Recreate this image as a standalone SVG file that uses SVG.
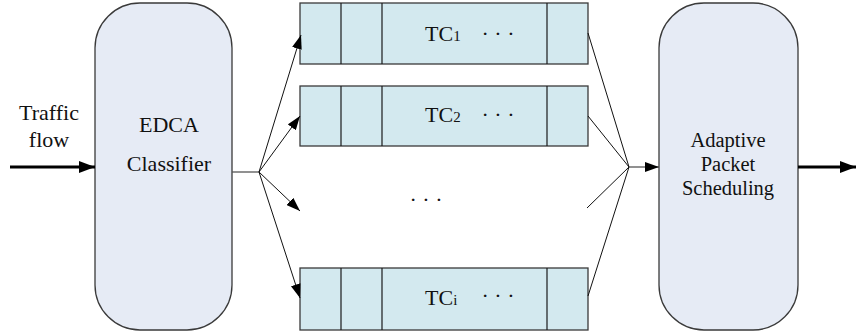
<svg xmlns="http://www.w3.org/2000/svg" width="856" height="333" viewBox="0 0 856 333">
  <style>
    .blk { fill: #e6ebf5; stroke: #3a3a3a; stroke-width: 1.3; }
    .q { fill: #d3e9ef; stroke: #3a3a3a; stroke-width: 1.3; }
    .div { stroke: #1a1a1a; stroke-width: 1.2; }
    .ln { stroke: #111; stroke-width: 1; fill: none; }
    .gl { stroke: #555; stroke-width: 1.3; fill: none; }
    .thick { stroke: #000; stroke-width: 3; fill: none; }
    text { font-family: "Liberation Serif", "Times New Roman", serif; font-size: 22px; fill: #111; text-anchor: middle; }
    .lbl { text-anchor: start; }
    .sub { font-size: 15px; }
    .tight { font-size: 20.5px; }
  </style>
  <defs>
    <marker id="ah" viewBox="0 0 14 10" refX="14" refY="5" markerWidth="14" markerHeight="10" markerUnits="userSpaceOnUse" orient="auto">
      <path d="M0,0 L14,5 L0,10 Z" fill="#000"/>
    </marker>
    <marker id="ahb" viewBox="0 0 16 12" refX="16" refY="6" markerWidth="16" markerHeight="12" markerUnits="userSpaceOnUse" orient="auto">
      <path d="M0,0 L16,6 L0,12 Z" fill="#000"/>
    </marker>
  </defs>

  <text x="49" y="120">Traffic</text>
  <text x="49" y="147">flow</text>

  <g id="edca">
    <rect class="blk" x="95" y="3" width="137" height="327" rx="45" ry="45"/>
    <text x="169" y="132">EDCA</text>
    <text x="169" y="171">Classifier</text>
  </g>

  <g id="tc1">
    <rect class="q" x="300" y="3" width="288" height="61"/>
    <line class="div" x1="341" y1="3" x2="341" y2="64"/>
    <line class="div" x1="382" y1="3" x2="382" y2="64"/>
    <line class="div" x1="547" y1="3" x2="547" y2="64"/>
    <text class="lbl" x="425" y="41">TC<tspan class="sub">1</tspan></text>
    <text x="498" y="41">· · ·</text>
  </g>

  <g id="tc2">
    <rect class="q" x="300" y="86" width="288" height="60"/>
    <line class="div" x1="341" y1="86" x2="341" y2="146"/>
    <line class="div" x1="382" y1="86" x2="382" y2="146"/>
    <line class="div" x1="547" y1="86" x2="547" y2="146"/>
    <text class="lbl" x="425" y="122">TC<tspan class="sub">2</tspan></text>
    <text x="498" y="122">· · ·</text>
  </g>

  <g id="more">
    <text x="426" y="207">· · ·</text>
  </g>

  <g id="tci">
    <rect class="q" x="300" y="268" width="288" height="62"/>
    <line class="div" x1="341" y1="268" x2="341" y2="330"/>
    <line class="div" x1="382" y1="268" x2="382" y2="330"/>
    <line class="div" x1="547" y1="268" x2="547" y2="330"/>
    <text class="lbl" x="425" y="305">TC<tspan class="sub">i</tspan></text>
    <text x="498" y="303">· · ·</text>
  </g>

  <g id="aps">
    <rect class="blk" x="659" y="3" width="139" height="327" rx="45" ry="45"/>
    <text class="tight" x="728" y="147">Adaptive</text>
    <text class="tight" x="728" y="171">Packet</text>
    <text class="tight" x="728" y="195">Scheduling</text>
  </g>

  <g id="connectors">
    <line class="thick" x1="10" y1="167" x2="95" y2="167" marker-end="url(#ahb)"/>
    <line class="gl" x1="232" y1="172" x2="259" y2="172"/>
    <line class="ln" x1="259" y1="172" x2="301" y2="35" marker-end="url(#ah)"/>
    <line class="ln" x1="259" y1="172" x2="300" y2="116" marker-end="url(#ah)"/>
    <line class="ln" x1="259" y1="172" x2="300" y2="211" marker-end="url(#ah)"/>
    <line class="ln" x1="259" y1="172" x2="300" y2="298" marker-end="url(#ah)"/>
    <line class="ln" x1="588" y1="33" x2="629" y2="167"/>
    <line class="ln" x1="588" y1="116" x2="629" y2="167"/>
    <line class="ln" x1="587" y1="208" x2="629" y2="167"/>
    <line class="ln" x1="588" y1="296" x2="629" y2="167"/>
    <line class="gl" x1="629" y1="167" x2="659" y2="167" marker-end="url(#ah)"/>
    <line class="thick" x1="798" y1="167" x2="856" y2="167" marker-end="url(#ahb)"/>
  </g>
</svg>
